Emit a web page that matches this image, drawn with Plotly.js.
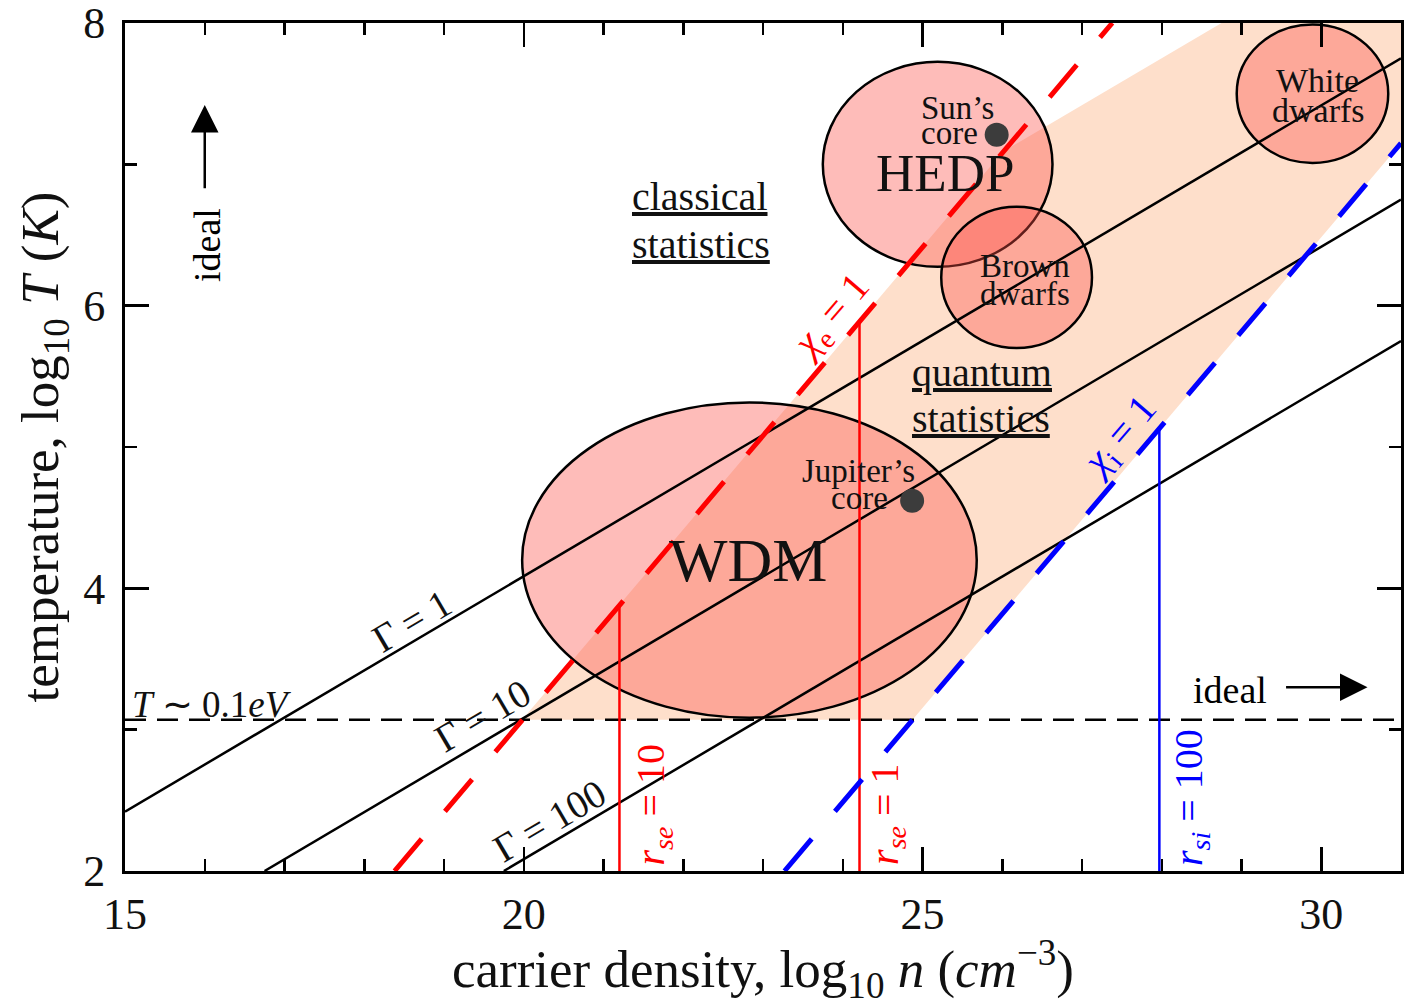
<!DOCTYPE html>
<html>
<head>
<meta charset="utf-8">
<script src="https://cdn.plot.ly/plotly-3.0.1.min.js"></script>
<style>
  html, body { margin: 0; padding: 0; background: #ffffff; }
  #plot { width: 1408px; height: 1006px; }
</style>
</head>
<body>
<div id="plot"></div>
<script>
// Axes: log10 of carrier density (cm^-3) and log10 of temperature (K)
const xRange = [15, 31];
const yRange = [2, 8];
const xTickVals = [15, 20, 25, 30];
const xTickText = ['15', '20', '25', '30'];
const yTickVals = [2, 4, 6, 8];
const yTickText = ['2', '4', '6', '8'];

// Coupling parameter lines Γ = 1, 10, 100 (end points)
const gamma1X = [15, 31],    gamma1Y = [2.42, 7.75];
const gamma10X = [16.75, 31], gamma10Y = [2.0, 6.75];
const gamma100X = [19.75, 31], gamma100Y = [2.0, 5.75];

// Degeneracy lines χe = 1 (electrons) and χi = 1 (ions)
const chiEX = [18.38, 27.38], chiEY = [2.0, 8.0];
const chiIX = [23.27, 31.0],  chiIY = [2.0, 7.15];

// T ~ 0.1 eV
const lowTX = [15, 31], lowTY = [3.07, 3.07];

// Wigner–Seitz radius markers
const rse10X = [21.2, 21.2],   rse10Y = [2.0, 3.88];
const rse1X = [24.21, 24.21],  rse1Y = [2.0, 5.89];
const rsi100X = [27.97, 27.97], rsi100Y = [2.0, 5.13];

// Shaded partially-degenerate region (polygon vertices)
const regionX = [19.98, 26.01, 28.75, 31.0, 31.0, 24.875];
const regionY = [3.07, 7.09, 8.0, 8.0, 7.15, 3.07];

// Regimes drawn as ellipses: centre and half-widths
const regimeNames = ['WDM', 'HEDP', 'Brown dwarfs', 'White dwarfs'];
const regimeCX = [22.83, 25.19, 26.18, 29.89];
const regimeCY = [4.20, 7.00, 6.20, 7.50];
const regimeRX = [2.85, 1.44, 0.945, 0.95];
const regimeRY = [1.115, 0.725, 0.50, 0.49];

// Planetary / stellar cores
const coreNames = ['Sun’s core', 'Jupiter’s core'];
const coreX = [25.93, 24.87];
const coreY = [7.21, 4.62];

const RED = '#ff0000';
const BLUE = '#0000ff';
const FONT = 'Liberation Serif, Times New Roman, serif';

function line(x, y, color, width, dash) {
  return { x: x, y: y, type: 'scatter', mode: 'lines', hoverinfo: 'skip',
           line: { color: color, width: width, dash: dash || 'solid' } };
}

const traces = [
  line(gamma1X, gamma1Y, '#000', 2.5),
  line(gamma10X, gamma10Y, '#000', 2.5),
  line(gamma100X, gamma100Y, '#000', 2.5),
  line(lowTX, lowTY, '#000', 2.5, '21px,11px'),
  line(rse10X, rse10Y, RED, 2.5),
  line(rse1X, rse1Y, RED, 2.5),
  line(rsi100X, rsi100Y, BLUE, 2.5),
  line(chiEX, chiEY, RED, 5, '42px,36px'),
  line(chiIX, chiIY, BLUE, 5, '42px,36px'),
  { x: coreX, y: coreY, type: 'scatter', mode: 'markers', hoverinfo: 'skip',
    marker: { size: 24, color: '#3c3c3c', line: { width: 0 } } }
];

// Shapes: shaded region first, then the ellipses on top of it
let regionPath = '';
regionX.forEach((x, i) => { regionPath += (i === 0 ? 'M ' : ' L ') + x + ',' + regionY[i]; });
regionPath += ' Z';

const shapes = [{
  type: 'path', xref: 'x', yref: 'y', layer: 'below', path: regionPath,
  fillcolor: '#fedfcb', line: { width: 0 }
}];
regimeNames.forEach((name, i) => {
  shapes.push({
    type: 'circle', xref: 'x', yref: 'y', layer: 'below',
    x0: regimeCX[i] - regimeRX[i], x1: regimeCX[i] + regimeRX[i],
    y0: regimeCY[i] - regimeRY[i], y1: regimeCY[i] + regimeRY[i],
    fillcolor: 'rgba(252,80,72,0.38)', line: { color: '#000', width: 2.5 }
  });
});

function label(text, x, y, size, opts) {
  const o = opts || {};
  return {
    text: text, x: x, y: y, xref: 'x', yref: 'y', showarrow: false,
    xanchor: o.xanchor || 'center', yanchor: o.yanchor || 'middle',
    textangle: o.angle || 0,
    font: { family: FONT, size: size, color: o.color || '#111' }
  };
}

const U = t => '<span style="text-decoration:underline">' + t + '</span>';

const annotations = [
  label('WDM', 22.81, 4.20, 62),
  label('HEDP', 25.28, 6.94, 53),
  label('Sun’s', 25.44, 7.40, 33),
  label('core', 25.34, 7.22, 33),
  label('Brown', 26.29, 6.28, 33),
  label('dwarfs', 26.29, 6.08, 33),
  label('White', 29.95, 7.59, 34),
  label('dwarfs', 29.97, 7.38, 34),
  label('Jupiter’s', 24.20, 4.83, 33),
  label('core', 24.21, 4.64, 33),
  label(U('classical'), 21.33, 6.77, 40, { xanchor: 'left' }),
  label(U('statistics'), 21.33, 6.43, 40, { xanchor: 'left' }),
  label(U('quantum'), 24.84, 5.53, 40, { xanchor: 'left' }),
  label(U('statistics'), 24.84, 5.20, 40, { xanchor: 'left' }),
  label('Γ = 1', 18.60, 3.77, 39, { angle: -30.5 }),
  label('Γ = 10', 19.48, 3.10, 39, { angle: -30.5 }),
  label('Γ = 100', 20.32, 2.36, 39, { angle: -30.5 }),
  label('<i>T</i> ∼ 0.1<i>eV</i>', 15.06, 3.18, 37, { xanchor: 'left' }),
  label('<i>χ</i><sub>e</sub> = 1', 23.86, 5.92, 40, { angle: -49.5, color: RED }),
  label('<i>χ</i><sub>i</sub> = 1', 27.48, 5.07, 40, { angle: -49.5, color: BLUE }),
  label('<i>r</i><sub><i>se</i></sub> = 10', 21.62, 2.47, 40, { angle: -90, color: RED }),
  label('<i>r</i><sub><i>se</i></sub> = 1', 24.56, 2.40, 40, { angle: -90, color: RED }),
  label('<i>r</i><sub><i>si</i></sub> = 100', 28.36, 2.52, 40, { angle: -90, color: BLUE }),
  label('ideal', 16.03, 6.43, 38, { angle: -90, color: '#000' }),
  label('ideal', 28.85, 3.28, 38, { color: '#000' }),
  // arrows
  { text: '', x: 16.0, y: 7.42, ax: 16.0, ay: 6.82, xref: 'x', yref: 'y', axref: 'x', ayref: 'y',
    showarrow: true, arrowhead: 2, arrowsize: 2.2, arrowwidth: 2.5, arrowcolor: '#000' },
  { text: '', x: 30.58, y: 3.30, ax: 29.54, ay: 3.30, xref: 'x', yref: 'y', axref: 'x', ayref: 'y',
    showarrow: true, arrowhead: 2, arrowsize: 2.2, arrowwidth: 2.5, arrowcolor: '#000' }
];

const axisCommon = {
  ticks: 'inside', ticklen: 24, tickwidth: 2.5, tickcolor: '#000',
  showline: true, linewidth: 3, linecolor: '#000', mirror: 'ticks',
  showgrid: false, zeroline: false, tickmode: 'array',
  ticklabeloverflow: 'allow',
  tickfont: { family: FONT, size: 44, color: '#111' },
  minor: { ticks: 'inside', ticklen: 12, tickwidth: 2.5, tickcolor: '#000', dtick: 1, showgrid: false }
};

const layout = {
  width: 1408, height: 1006,
  margin: { l: 125, r: 7, t: 23, b: 135 },
  paper_bgcolor: '#ffffff', plot_bgcolor: 'rgba(0,0,0,0)',
  showlegend: false,
  font: { family: FONT, color: '#111' },
  xaxis: Object.assign({}, axisCommon, {
    range: xRange, tickvals: xTickVals, ticktext: xTickText, ticklabelstandoff: 2,
    title: { text: 'carrier density, log<sub>10</sub> <i>n</i> (<i>cm</i><sup>−3</sup>)',
             font: { family: FONT, size: 53, color: '#111' }, standoff: 0 }
  }),
  yaxis: Object.assign({}, axisCommon, {
    range: yRange, tickvals: yTickVals, ticktext: yTickText, ticklabelstandoff: 8,
    title: { text: 'temperature, log<sub>10</sub> <i>T</i> (<i>K</i>)',
             font: { family: FONT, size: 53, color: '#111' }, standoff: 8 }
  }),
  shapes: shapes,
  annotations: annotations
};

Plotly.newPlot('plot', traces, layout, { staticPlot: true, displayModeBar: false });
</script>
</body>
</html>
